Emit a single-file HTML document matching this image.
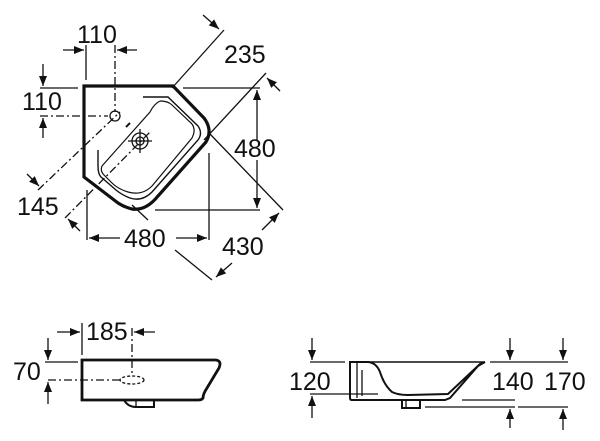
<!DOCTYPE html>
<html><head><meta charset="utf-8"><style>
html,body{margin:0;padding:0;background:#fff;width:600px;height:441px;overflow:hidden}
svg{display:block}
text{font-family:"Liberation Sans",sans-serif;font-size:25px;fill:#111}
</style></head><body>
<svg width="600" height="441" viewBox="0 0 600 441">
<defs>
<marker id="a" viewBox="0 0 10 10" refX="10" refY="5" markerWidth="12" markerHeight="10" orient="auto-start-reverse" markerUnits="userSpaceOnUse"><path d="M0,1 L10,5 L0,9 z" fill="#111"/></marker>
</defs>
<g stroke="#111" fill="none" stroke-width="1.3">
<!-- top view outline -->
<path d="M84,86 H173 L204,118 Q213,130 206,142 L158,196 Q146,211 132,209 Q124,207 118,203 L84,177 Z" stroke-width="3.2"/>
<path d="M143,97 H168 L198,126 Q203,133 198,140 L152,192 Q142,202 130,198 Q122,195 116,190 L101,177 Q98,174 98,166 V150" stroke-width="1.4"/>
<path d="M160,101 Q168,101 172,105 L190,122 Q197,128 192,138 L152,186 Q142,196 128,192 Q118,189 112,183 L104,175 Q100,171 102,166" stroke-width="1.2"/>
<path d="M102,166 L150,112 Q154,104 160,101" stroke-width="1.2"/>
<circle cx="115" cy="116" r="5"/>
<circle cx="140" cy="141" r="8"/><circle cx="140" cy="141" r="4"/>
<path d="M128,141 H152 M140,129 V153"/>
<path d="M126,127 l4,-4" stroke-width="2"/>
<!-- 110 top -->
<path d="M86,45 V80"/>
<path d="M115,45 V112" stroke-dasharray="8,3,2,3"/>
<path d="M63,50 H84" marker-end="url(#a)"/>
<path d="M137,50 H117" marker-end="url(#a)"/>
<!-- 110 left -->
<path d="M40,88 H78"/>
<path d="M40,116 H108" stroke-dasharray="8,3,2,3"/>
<path d="M43,64 V86" marker-end="url(#a)"/>
<path d="M43,138 V118" marker-end="url(#a)"/>
<!-- 145 dashdots -->
<path d="M38,190 L120,112" stroke-dasharray="8,3,2,3"/>
<path d="M65,218 L150,132" stroke-dasharray="8,3,2,3"/>
<path d="M27,174 L39,186" marker-end="url(#a)"/>
<path d="M80,231 L68,219" marker-end="url(#a)"/>
<!-- 235 -->
<path d="M172,88 L224,30"/>
<path d="M204,140 L266,73"/>
<path d="M203,15 L219,29" marker-end="url(#a)"/>
<path d="M280,91 L267,78" marker-end="url(#a)"/>
<!-- 480 right -->
<path d="M183,88 H260 M155,210 H260"/>
<path d="M257,140 V90" marker-end="url(#a)"/>
<path d="M257,160 V208" marker-end="url(#a)"/>
<!-- 480 bottom -->
<path d="M87,190 V240 M209,153 V240"/>
<path d="M120,238 H89" marker-end="url(#a)"/>
<path d="M176,238 H207" marker-end="url(#a)"/>
<!-- 430 -->
<path d="M210,134 L283,210"/>
<path d="M132,205 L148,220"/>
<path d="M175,250 L212,280"/>
<path d="M262,230 L279,213" marker-end="url(#a)"/>
<path d="M232,263 L216,277" marker-end="url(#a)"/>

<!-- side view left -->
<path d="M82,360 H216 Q222,361 219,368 L207,388 Q203,394 203,398 Q202,400 198,400 H82 Z" stroke-width="2.8"/>
<path d="M124,400 Q128,407 136,407 H154 V400" stroke-width="2"/>
<path d="M136,400 V407"/>
<path d="M82,323 V355"/>
<path d="M132,328 V375" stroke-dasharray="8,3,2,3"/>
<path d="M57,332 H80" marker-end="url(#a)"/>
<path d="M155,332 H134" marker-end="url(#a)"/>
<path d="M45,362 H78"/>
<path d="M48,380 H120" stroke-dasharray="8,3,2,3"/>
<ellipse cx="132" cy="380" rx="12" ry="4" stroke-dasharray="3,2"/>
<path d="M48,338 V360" marker-end="url(#a)"/>
<path d="M48,404 V382" marker-end="url(#a)"/>

<!-- side view right -->
<path d="M350,362 H367 Q376,362 380,372 Q384,385 392,392 Q398,395 408,395 L448,394 L480,364 L485,362 L478,366 L450,398 L445,400 H352 Q350,400 350,398 Z" stroke-width="2"/>
<path d="M357,362 V398"/>
<path d="M362,370 V396"/>
<path d="M402,400 V408 H420 V400" stroke-width="2"/>
<path d="M406,400 V408"/>
<path d="M367,362 H485" stroke-width="1.5"/>
<path d="M310,362 H345 M310,394 H378"/>
<path d="M312,338 V360" marker-end="url(#a)"/>
<path d="M312,418 V396" marker-end="url(#a)"/>
<path d="M490,362 H568 M462,400 H515 M425,407 H515 M518,407 H568"/>
<path d="M510,338 V360" marker-end="url(#a)"/>
<path d="M510,428 V409" marker-end="url(#a)"/>
<path d="M563,338 V360" marker-end="url(#a)"/>
<path d="M563,430 V409" marker-end="url(#a)"/>
</g>
<text x="77" y="43">110</text>
<text x="22" y="110">110</text>
<text x="224" y="63">235</text>
<text x="234" y="157">480</text>
<text x="17" y="215">145</text>
<text x="124" y="247">480</text>
<text x="222" y="255">430</text>
<text x="86" y="340">185</text>
<text x="13" y="380">70</text>
<text x="289" y="390">120</text>
<text x="492" y="390">140</text>
<text x="544" y="390">170</text>
</svg>
</body></html>
